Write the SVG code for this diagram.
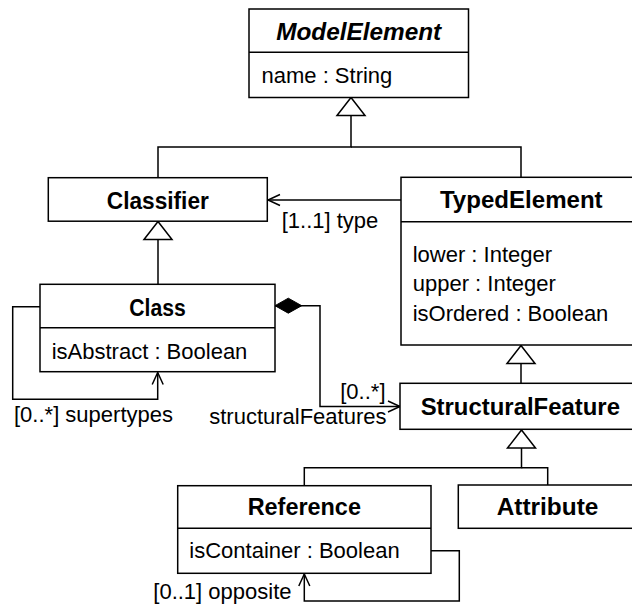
<svg xmlns="http://www.w3.org/2000/svg" width="632" height="609" viewBox="0 0 632 609">
<style>
  .box { fill: #ffffff; stroke: #000000; stroke-width: 1.5; }
  .sep { stroke: #000000; stroke-width: 1.5; fill: none; }
  .ln { fill: none; stroke: #000000; stroke-width: 1.5; }
  .title { font-family: "Liberation Sans", Arial, sans-serif; font-size: 23px; font-weight: bold; fill: #000; text-anchor: middle; }
  .abs { font-style: italic; }
  .attr { font-family: "Liberation Sans", Arial, sans-serif; font-size: 22px; fill: #000; }
  .lbl { font-family: "Liberation Sans", Arial, sans-serif; font-size: 22px; fill: #000; }
</style>
<defs>
  <marker id="gen" viewBox="0 0 18 28" refX="18" refY="14" markerWidth="18" markerHeight="28" markerUnits="userSpaceOnUse" orient="auto" overflow="visible">
    <path d="M0,0 L18,14 L0,28 Z" fill="#ffffff" stroke="#000000" stroke-width="1.5"/>
  </marker>
  <marker id="open" viewBox="0 0 12 11" refX="12" refY="5.5" markerWidth="12" markerHeight="11" markerUnits="userSpaceOnUse" orient="auto" overflow="visible">
    <path d="M0,0 L12,5.5 L0,11" fill="none" stroke="#000000" stroke-width="1.5"/>
  </marker>
  <marker id="comp" viewBox="0 0 27 15" refX="0" refY="7.5" markerWidth="27" markerHeight="15" markerUnits="userSpaceOnUse" orient="auto" overflow="visible">
    <path d="M0,7.5 L13.3,0 L26.7,7.5 L13.3,15 Z" fill="#000000" stroke="#000000" stroke-width="1"/>
  </marker>
</defs>
<rect width="632" height="609" fill="#ffffff"/>

<g id="connectors">
  <!-- generalizations to ModelElement -->
  <path class="ln" d="M521 177.3 V147 H351"/>
  <path class="ln" d="M158 177.7 V147 H351 V97.5" marker-end="url(#gen)"/>
  <!-- Class to Classifier -->
  <path class="ln" d="M158 284.3 V221.5" marker-end="url(#gen)"/>
  <!-- StructuralFeature to TypedElement -->
  <path class="ln" d="M521 383.3 V345.5" marker-end="url(#gen)"/>
  <!-- Reference / Attribute to StructuralFeature -->
  <path class="ln" d="M547.7 485 V467.7 H521.5"/>
  <path class="ln" d="M304.3 485.7 V467.7 H521.5 V430" marker-end="url(#gen)"/>
  <!-- type association -->
  <path class="ln" d="M401 200 H268" marker-end="url(#open)"/>
  <!-- supertypes self association -->
  <path class="ln" d="M40 306.7 H12.7 V399.3 H157.7 V372.5" marker-end="url(#open)"/>
  <!-- composition structuralFeatures -->
  <path class="ln" d="M275 305.7 H320 V406.5 H400" marker-start="url(#comp)" marker-end="url(#open)"/>
  <!-- opposite self association -->
  <path class="ln" d="M431 550.7 H459.3 V601 H304.3 V574" marker-end="url(#open)"/>
  <text class="lbl" x="281.7" y="228.3">[1..1] type</text>
  <text class="lbl" x="14" y="421.5">[0..*] supertypes</text>
  <text class="lbl" x="385.5" y="398.5" text-anchor="end">[0..*]</text>
  <text class="lbl" x="386.5" y="423.5" text-anchor="end">structuralFeatures</text>
  <text class="lbl" x="153.3" y="599">[0..1] opposite</text>
</g>

<g id="ModelElement">
  <rect class="box" x="249" y="9" width="219.5" height="88.5"/>
  <line class="sep" x1="249" y1="52.3" x2="468.5" y2="52.3"/>
  <text class="title abs" x="358.7" y="40" textLength="165" lengthAdjust="spacingAndGlyphs">ModelElement</text>
  <text class="attr" x="261.5" y="83">name : String</text>
</g>

<g id="Classifier">
  <rect class="box" x="48.3" y="177.7" width="219" height="43.5"/>
  <text class="title" x="157.8" y="209.3" textLength="102" lengthAdjust="spacingAndGlyphs">Classifier</text>
</g>

<g id="TypedElement">
  <rect class="box" x="401" y="177.3" width="245" height="167.7"/>
  <line class="sep" x1="401" y1="221.7" x2="646" y2="221.7"/>
  <text class="title" x="521.3" y="208.3" textLength="162.7" lengthAdjust="spacingAndGlyphs">TypedElement</text>
  <text class="attr" x="412.7" y="261.5">lower : Integer</text>
  <text class="attr" x="412.7" y="291">upper : Integer</text>
  <text class="attr" x="412.7" y="320.5">isOrdered : Boolean</text>
</g>

<g id="Class">
  <rect class="box" x="40" y="284.3" width="235" height="87.4"/>
  <line class="sep" x1="40" y1="327.7" x2="275" y2="327.7"/>
  <text class="title" x="157.5" y="315.7" textLength="56.4" lengthAdjust="spacingAndGlyphs">Class</text>
  <text class="attr" x="51.7" y="359.3">isAbstract : Boolean</text>
</g>

<g id="StructuralFeature">
  <rect class="box" x="400" y="383.3" width="246" height="46"/>
  <text class="title" x="520.3" y="415" textLength="199.3" lengthAdjust="spacingAndGlyphs">StructuralFeature</text>
</g>

<g id="Reference">
  <rect class="box" x="177.7" y="485.7" width="253.3" height="87.6"/>
  <line class="sep" x1="177.7" y1="528.3" x2="431" y2="528.3"/>
  <text class="title" x="304.3" y="515" textLength="113.3" lengthAdjust="spacingAndGlyphs">Reference</text>
  <text class="attr" x="189.3" y="558.3">isContainer : Boolean</text>
</g>

<g id="Attribute">
  <rect class="box" x="458.3" y="485" width="185" height="43.3"/>
  <text class="title" x="547.5" y="515" textLength="101.7" lengthAdjust="spacingAndGlyphs">Attribute</text>
</g>
</svg>
